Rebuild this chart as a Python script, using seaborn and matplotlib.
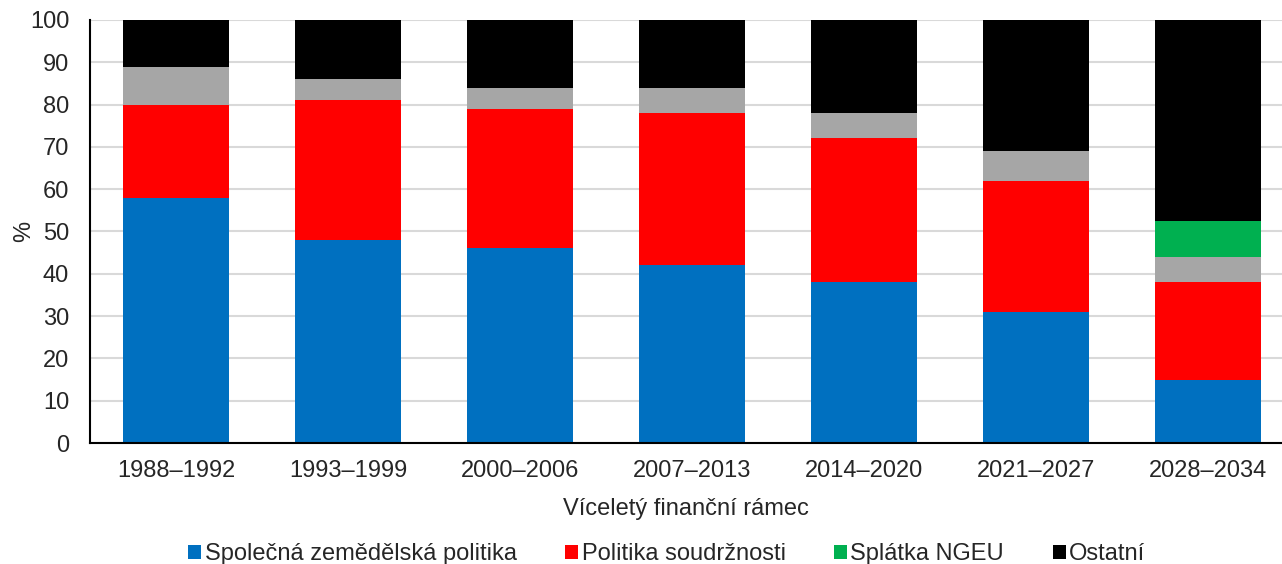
import matplotlib
matplotlib.use("Agg")
import matplotlib.pyplot as plt
import seaborn as sns
import pandas as pd
import numpy as np
from matplotlib.patches import Patch

periods = ["1988–1992", "1993–1999", "2000–2006", "2007–2013", "2014–2020", "2021–2027", "2028–2034"]
zemedelska = [58, 48, 46, 42, 38, 31, 15]
soudrznost = [22, 33, 33, 36, 34, 31, 23]
ostatni_sedive = [9, 5, 5, 6, 6, 7, 6]
splatka_ngeu = [0, 0, 0, 0, 0, 0, 8.5]
ostatni = [11, 14, 16, 16, 22, 31, 47.5]

layers = [
    ("Společná zemědělská politika", zemedelska, "#0070c0", True),
    ("Politika soudržnosti", soudrznost, "#ff0000", True),
    ("", ostatni_sedive, "#a6a6a6", False),
    ("Splátka NGEU", splatka_ngeu, "#00b050", True),
    ("Ostatní", ostatni, "#000000", True),
]

sns.set_theme(style="white")
plt.rcParams["font.family"] = ["Liberation Sans", "DejaVu Sans"]
FS = 17

fig = plt.figure(figsize=(12.82, 5.64), dpi=100)
ax = fig.add_axes([90 / 1282, 1 - 443 / 564, (1282 - 90) / 1282, (443 - 20) / 564])

# stacked bars: draw cumulative totals from the top layer down
cum = np.cumsum([np.array(v, dtype=float) for _, v, _, _ in layers], axis=0)
for i in range(len(layers) - 1, -1, -1):
    df = pd.DataFrame({"period": periods, "value": cum[i]})
    sns.barplot(data=df, x="period", y="value", color=layers[i][2], width=0.62,
                saturation=1, ax=ax, zorder=2, linewidth=0)

ax.set_ylim(0, 100)
ax.set_xlim(-0.5, 6.43)
ax.set_yticks(range(0, 101, 10))
ax.yaxis.grid(True, color="#d9d9d9", linewidth=1.5, zorder=0)
ax.set_axisbelow(True)
for s in ["top", "right"]:
    ax.spines[s].set_visible(False)
for s in ["left", "bottom"]:
    ax.spines[s].set_color("black")
    ax.spines[s].set_linewidth(1.5)
ax.tick_params(axis="y", labelsize=FS, length=0, pad=15)
ax.tick_params(axis="x", labelsize=FS, length=0, pad=12)
ax.set_ylabel("%", fontsize=FS)
ax.set_xlabel("Víceletý finanční rámec", fontsize=FS, labelpad=12)
ax.yaxis.set_label_coords(-0.046, 0.5)

handles = [Patch(facecolor=c, edgecolor="none", label=n) for n, _, c, show in layers if show]
fig.legend(handles=handles, loc="lower center", bbox_to_anchor=(0.52, -0.04), ncol=4,
           frameon=False, fontsize=FS, handlelength=0.55, handleheight=0.55,
           handletextpad=0.15, columnspacing=2.05)

fig.savefig("out.png", dpi=100)
